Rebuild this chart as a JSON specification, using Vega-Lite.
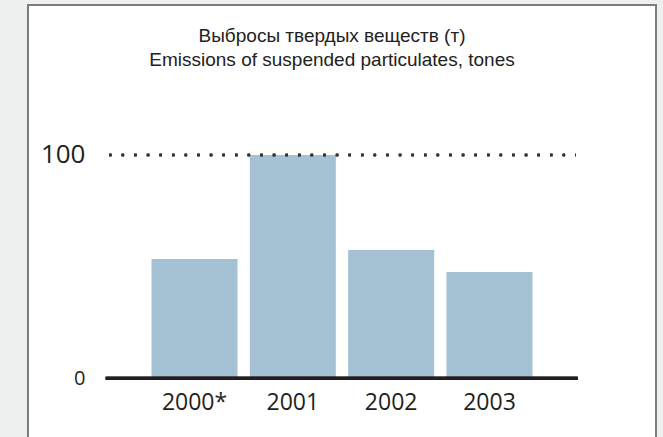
{
  "$schema": "https://vega.github.io/schema/vega-lite/v6.json",
  "width": 628,
  "height": 436,
  "autosize": {"type": "none"},
  "padding": {"left": 28, "top": 5, "right": 7, "bottom": -4},
  "background": "#eef0ef",
  "config": {
    "view": {"fill": "#ffffff", "stroke": "#7d7d7d", "strokeWidth": 2},
    "font": "Open Sans"
  },
  "title": {
    "text": ["Выбросы твердых веществ (т)", "Emissions of suspended particulates, tones"],
    "font": "Liberation Sans Narrow, Liberation Sans, Arial",
    "fontSize": 19,
    "fontWeight": "normal",
    "color": "#222222",
    "anchor": "middle",
    "offset": -65,
    "baseline": "top",
    "lineHeight": 24,
    "dx": -10
  },
  "data": {
    "values": [
      {"year": "2000*", "value": 53.4},
      {"year": "2001", "value": 100},
      {"year": "2002", "value": 57.5},
      {"year": "2003", "value": 47.6}
    ]
  },
  "layer": [
    {
      "mark": {"type": "bar", "color": "#a4c2d3"},
      "encoding": {
        "x": {
          "field": "year",
          "type": "nominal",
          "scale": {"domain": ["2000*", "2001", "2002", "2003"], "range": [123.5, 504.5], "paddingInner": 0.125, "paddingOuter": 0},
          "axis": {
            "title": null,
            "ticks": false,
            "tickSize": 0,
            "domain": false,
            "grid": false,
            "labelPadding": 13,
            "offset": -63,
            "labelFontSize": 23,
            "labelAngle": 0,
            "labelColor": "#231f20"
          }
        },
        "y": {
          "field": "value",
          "type": "quantitative",
          "scale": {"domain": [-28.08, 167.17], "nice": false, "zero": false},
          "axis": {
            "values": [0, 100],
            "title": null,
            "ticks": false,
            "tickSize": 0,
            "domain": false,
            "grid": false,
            "labelPadding": 0,
            "offset": -57,
            "labelFontSize": {"condition": {"test": "datum.value == 100", "value": 26}, "value": 20},
            "labelColor": "#231f20",
            "labelDy": 2
          }
        },
        "y2": {"datum": 0}
      }
    },
    {
      "mark": {"type": "rule", "strokeWidth": 3, "color": "#231f20", "xOffset": -88.8, "x2Offset": 88.2},
      "encoding": {
        "x": {"datum": "2000*", "type": "nominal"},
        "x2": {"datum": "2003"},
        "y": {"datum": 0, "type": "quantitative"}
      }
    },
    {
      "mark": {"type": "rule", "strokeWidth": 2.5, "color": "#333333", "strokeDash": [2.5, 10.1], "xOffset": -85.5, "x2Offset": 86.5},
      "encoding": {
        "x": {"datum": "2000*", "type": "nominal"},
        "x2": {"datum": "2003"},
        "y": {"datum": 100, "type": "quantitative"}
      }
    }
  ]
}
